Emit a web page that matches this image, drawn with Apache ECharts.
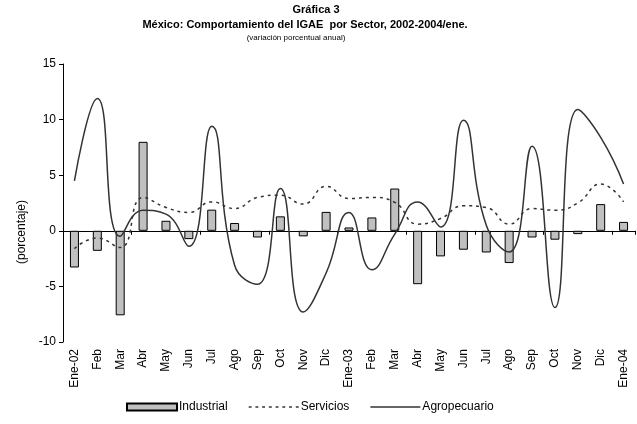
<!DOCTYPE html>
<html>
<head>
<meta charset="utf-8">
<script src="https://cdn.jsdelivr.net/npm/echarts@6/dist/echarts.min.js"></script>
<style>
	html, body { margin: 0; padding: 0; background: #fff; }
	#chart { width: 637px; height: 424px; }
</style>
</head>
<body>
<div id="chart"></div>
<script>
// categorias (meses)
var meses = ['Ene-02', 'Feb', 'Mar', 'Abr', 'May', 'Jun', 'Jul', 'Ago', 'Sep', 'Oct', 'Nov', 'Dic',
	'Ene-03', 'Feb', 'Mar', 'Abr', 'May', 'Jun', 'Jul', 'Ago', 'Sep', 'Oct', 'Nov', 'Dic', 'Ene-04'];
var industrial = [-3.3, -1.8, -7.6, 8.0, 0.9, -0.75, 1.9, 0.7, -0.6, 1.3, -0.5, 1.7,
	0.3, 1.2, 3.8, -4.8, -2.3, -1.7, -1.95, -2.9, -0.6, -0.8, -0.3, 2.4, 0.8];
var servicios = [-1.6, -0.65, -1.5, 3.0, 2.1, 1.65, 2.6, 2.0, 3.0, 3.2, 2.4, 4.0,
	2.9, 3.0, 2.55, 0.6, 1.1, 2.25, 2.1, 0.6, 2.0, 1.85, 2.5, 4.2, 2.6];
var agropecuario = [4.5, 11.9, -0.5, 1.85, 1.5, -1.4, 9.4, -3.1, -4.8, 3.8, -7.3, -3.8,
	1.65, -3.5, -0.3, 2.6, 0.35, 9.95, 0.5, -1.9, 7.6, -6.9, 10.9, 8.4, 4.2];
var yTicks = [-10, -5, 0, 5, 10, 15];

var fuente = 'Liberation Sans, Arial, sans-serif';

// iconos de leyenda: linea continua y linea punteada
var iconoLinea = 'path://M0,0H50V1.5H0Z';
var iconoPunteado = 'path://';
for (var d = 0; d < 50; d += 7) {
	iconoPunteado += 'M' + d + ',0H' + (d + 3) + 'V1.5H' + d + 'Z';
}
iconoPunteado += 'M49.9,0H50V1.5H49.9Z';

var ec = echarts.init(document.getElementById('chart'));
ec.setOption({
	animation: false,
	textStyle: { fontFamily: fuente, color: '#000' },
	graphic: [{
		type: 'text', x: 316, y: 4,
		style: { text: 'Gráfica 3', font: 'bold 11px ' + fuente, fill: '#000', textAlign: 'center' }
	}, {
		type: 'text', x: 305, y: 19,
		style: { text: 'México: Comportamiento del IGAE  por Sector, 2002-2004/ene.', font: 'bold 11px ' + fuente, fill: '#000', textAlign: 'center' }
	}, {
		type: 'text', x: 296, y: 34,
		style: { text: '(variación porcentual anual)', font: '8px ' + fuente, fill: '#000', textAlign: 'center' }
	}, {
		type: 'text', x: 22, y: 232, rotation: Math.PI / 2,
		style: { text: '(porcentaje)', font: '12px ' + fuente, fill: '#000', textAlign: 'center', textVerticalAlign: 'middle' }
	}],
	grid: {
		left: 63,
		right: 2,
		top: 64,
		bottom: 82
	},
	legend: {
		left: 121,
		bottom: 6,
		itemWidth: 50,
		itemHeight: 7,
		itemGap: 21,
		symbolKeepAspect: true,
		textStyle: { fontSize: 12, color: '#000', fontFamily: fuente, padding: [0, 0, 0, -3] },
		data: [
			{ name: 'Industrial', icon: 'rect' },
			{ name: 'Servicios', icon: iconoPunteado },
			{ name: 'Agropecuario', icon: iconoLinea }
		]
	},
	xAxis: [{
		type: 'category',
		data: meses,
		position: 'bottom',
		axisLine: { show: false, onZero: false },
		axisTick: { show: false },
		axisLabel: {
			interval: 0,
			rotate: 90,
			margin: 7,
			fontSize: 12,
			color: '#000'
		}
	}, {
		type: 'category',
		data: meses,
		position: 'bottom',
		axisLine: { show: true, onZero: true, lineStyle: { color: '#000', width: 1 } },
		axisTick: { show: true, length: 4, lineStyle: { color: '#000' } },
		axisLabel: { show: false }
	}],
	yAxis: {
		type: 'value',
		min: yTicks[0],
		max: yTicks[yTicks.length - 1],
		interval: 5,
		axisLine: { show: true, lineStyle: { color: '#000', width: 1 } },
		axisTick: { show: true, length: 4, lineStyle: { color: '#000' } },
		axisLabel: { fontSize: 12, color: '#000', margin: 7 },
		splitLine: { show: false }
	},
	series: [{
		name: 'Industrial',
		type: 'bar',
		xAxisIndex: 0,
		barWidth: 9,
		itemStyle: { color: '#c0c0c0', borderColor: '#000', borderWidth: 1 },
		z: 1,
		data: industrial
	}, {
		name: 'Servicios',
		type: 'line',
		xAxisIndex: 0,
		smooth: 0.5,
		symbol: 'none',
		lineStyle: { color: '#333', width: 1.5, type: [3, 4] },
		itemStyle: { color: '#333' },
		z: 3,
		data: servicios
	}, {
		name: 'Agropecuario',
		type: 'line',
		xAxisIndex: 0,
		smooth: 0.5,
		symbol: 'none',
		lineStyle: { color: '#333', width: 1.5 },
		itemStyle: { color: '#333' },
		z: 3,
		data: agropecuario
	}]
});
</script>
</body>
</html>
